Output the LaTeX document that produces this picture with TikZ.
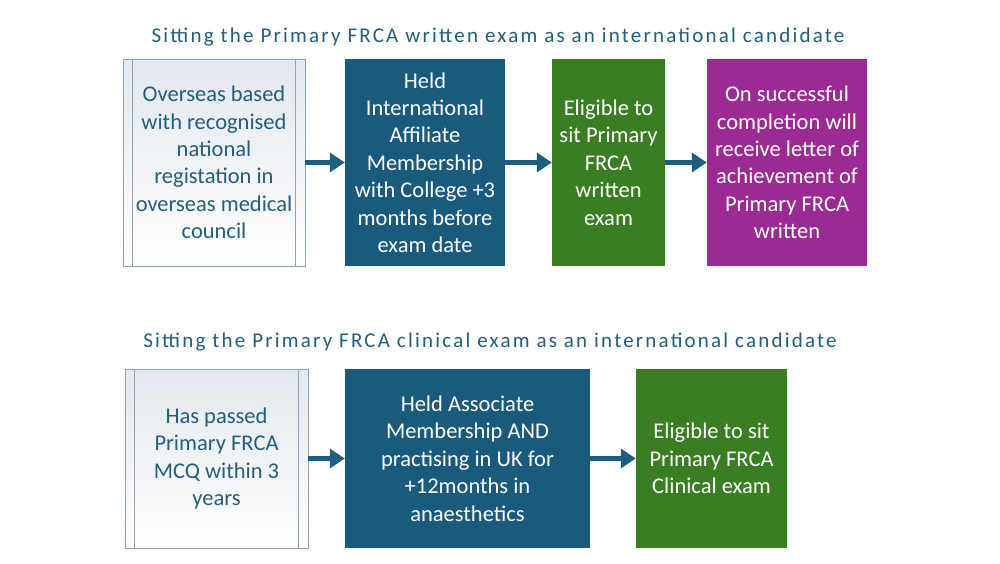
\documentclass[tikz,border=0pt]{standalone}
\usepackage{fontspec}
\setmainfont{Carlito}
\newfontfamily\titlefont[LetterSpace=10.5]{Carlito}
\usetikzlibrary{arrows.meta}
\definecolor{dblue}{HTML}{1A5A7C}
\definecolor{dgreen}{HTML}{3A7D22}
\definecolor{dpurple}{HTML}{9B2A92}
\definecolor{ttext}{HTML}{245E7B}
\definecolor{lborder}{HTML}{8AA5B5}
\definecolor{lfill}{HTML}{E2E8EE}
\definecolor{arrowc}{HTML}{1D5E7E}
\begin{document}
\begin{tikzpicture}[x=1pt,y=-1pt,
  title/.style={font=\titlefont\fontsize{21}{25}\selectfont, text=ttext, inner sep=0pt},
  boxtext/.style={font=\fontsize{22.5}{27.4}\selectfont, align=center, inner sep=0pt},
  solidbox/.style={boxtext, text=white, draw=none},
  bluebox/.style={solidbox, fill=dblue},
  greenbox/.style={solidbox, fill=dgreen},
  purplebox/.style={solidbox, fill=dpurple},
  lightbox/.style={boxtext, text=ttext, draw=lborder, line width=0.8pt,
    top color=lfill, bottom color=white,
    path picture={
      \draw[lborder, line width=0.8pt]
        ([xshift=9.5pt]path picture bounding box.north west) --
        ([xshift=9.5pt]path picture bounding box.south west);
      \draw[lborder, line width=0.8pt]
        ([xshift=-9.5pt]path picture bounding box.north east) --
        ([xshift=-9.5pt]path picture bounding box.south east);
    }},
  flow/.style={draw=arrowc, line width=4.8pt, -{Triangle[length=15pt,width=19pt]}}
]
\useasboundingbox[fill=white] (0,0) rectangle (1000,563);

\node[title] (t1) at (498,37) {Sitting the Primary FRCA written exam as an international candidate};
\node[title] (t2) at (490,342) {Sitting the Primary FRCA clinical exam as an international candidate};

% top row
\node[lightbox, minimum width=182pt, minimum height=207pt] (a1) at (214,162.5)
  {Overseas based\\with recognised\\national\\registation in\\overseas medical\\council};
\node[bluebox, minimum width=160pt, minimum height=207pt] (a2) at (425,162.5)
  {Held\\International\\Affiliate\\Membership\\with College +3\\months before\\exam date};
\node[greenbox, minimum width=113pt, minimum height=207pt] (a3) at (608.5,162.5)
  {Eligible to\\sit Primary\\FRCA\\written\\exam};
\node[purplebox, minimum width=160pt, minimum height=207pt] (a4) at (787,162.5)
  {On successful\\completion will\\receive letter of\\achievement of\\Primary FRCA\\written};

% bottom row
\node[lightbox, minimum width=183pt, minimum height=179pt] (b1) at (216.5,458.5)
  {Has passed\\Primary FRCA\\MCQ within 3\\years};
\node[bluebox, minimum width=245pt, minimum height=179pt] (b2) at (467.5,458.5)
  {Held Associate\\Membership AND\\practising in UK for\\+12months in\\anaesthetics};
\node[greenbox, minimum width=151pt, minimum height=179pt] (b3) at (711.5,458.5)
  {Eligible to sit\\Primary FRCA\\Clinical exam};

\draw[flow] (a1) -- (a2);
\draw[flow] (a2) -- (a3);
\draw[flow] (a3) -- (a4);
\draw[flow] (b1) -- (b2);
\draw[flow] (b2) -- (b3);
\end{tikzpicture}
\end{document}
